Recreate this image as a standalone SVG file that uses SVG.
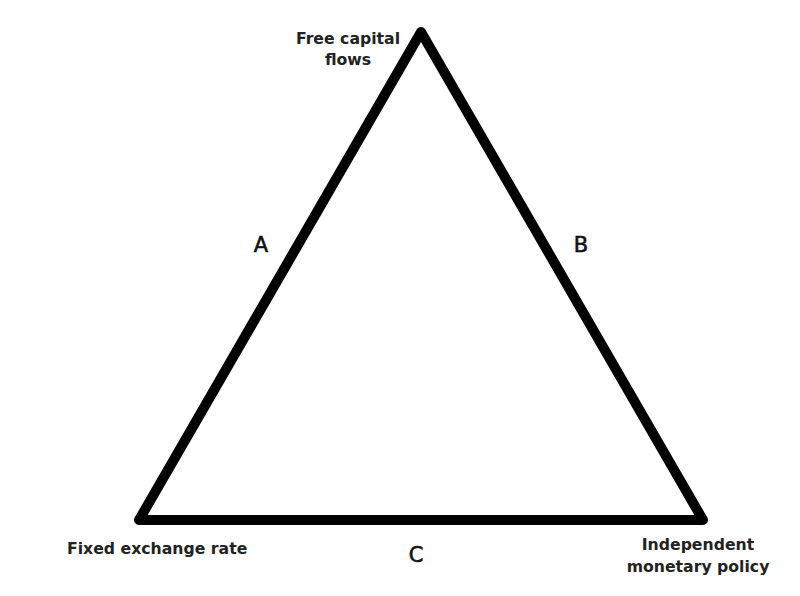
<svg xmlns="http://www.w3.org/2000/svg" width="800" height="596" viewBox="0 0 800 596">
<style>
.lbl{font-family:"DejaVu Sans","Liberation Sans",sans-serif;font-size:15.7px;font-weight:600;fill:#222;}
.side{font-family:"DejaVu Sans","Liberation Sans",sans-serif;font-size:21px;fill:#111;stroke:#111;stroke-width:0.6;text-anchor:middle;}
</style>
<rect width="800" height="596" fill="#fff"/>
<g id="connectors">
<polygon points="421,32 139,520 703,520" fill="none" stroke="#000" stroke-width="10" stroke-linejoin="round"/>
</g>
<g id="node-top"><text class="lbl" x="348" y="44" text-anchor="middle">Free capital</text><text class="lbl" x="348" y="65" text-anchor="middle">flows</text></g>
<g id="node-left"><text class="lbl" x="67" y="554">Fixed exchange rate</text></g>
<g id="node-right"><text class="lbl" x="698" y="550" text-anchor="middle">Independent</text><text class="lbl" x="698" y="572" text-anchor="middle">monetary policy</text></g>
<g id="label-a"><text class="side" x="261" y="252">A</text></g>
<g id="label-b"><text class="side" x="581" y="252">B</text></g>
<g id="label-c"><text class="side" x="416" y="562">C</text></g>
</svg>
